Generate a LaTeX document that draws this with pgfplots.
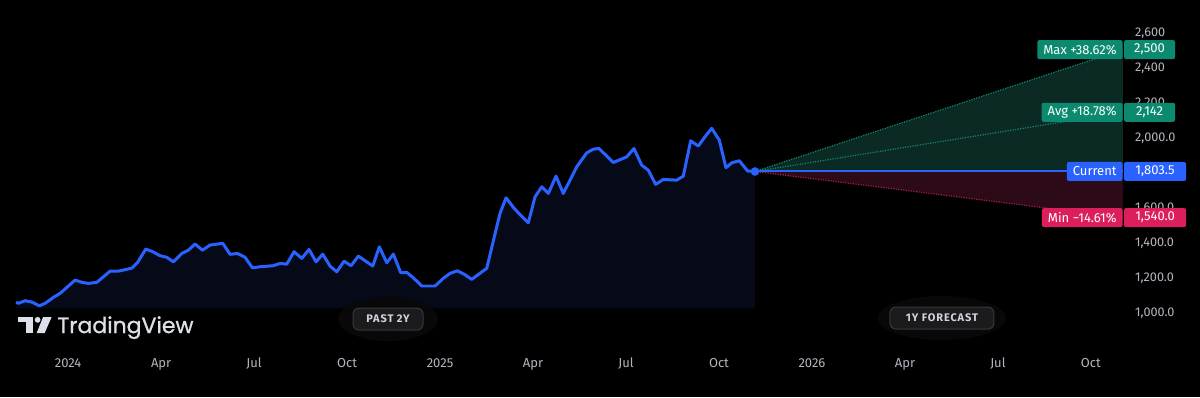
\documentclass[border=0pt]{standalone}
\usepackage{fontspec}
\setmainfont{Fira Sans}
\newfontfamily\logofont{Poppins}[FakeBold=0.9]
\newfontfamily\pillfont{Fira Sans}[LetterSpace=8]
\usepackage{pgfplots}
\pgfplotsset{compat=1.18}
\usepgfplotslibrary{fillbetween}
\usepackage{pgfplotstable}

\definecolor{tvblue}{HTML}{2962FF}
\definecolor{navyfill}{HTML}{060A18}
\definecolor{conegreen}{HTML}{0B2A24}
\definecolor{conered}{HTML}{2C0A17}
\definecolor{tvgreen}{HTML}{0B8A70}
\definecolor{tvred}{HTML}{DC1F5C}
\definecolor{dotgreen}{HTML}{108A70}
\definecolor{dotred}{HTML}{A51D4C}
\definecolor{ticktext}{HTML}{B2B5BE}
\definecolor{pilltext}{HTML}{D1D4DC}
\definecolor{pillfill}{HTML}{1B1B1D}
\definecolor{pilldraw}{HTML}{38383B}
\definecolor{glowcol}{HTML}{080809}
\definecolor{logotext}{HTML}{DDE0E8}

% price history: x = months since Jan 2024, y = price
\pgfplotstableread{
m v
-1.677 1057
-1.603 1050
-1.387 1065
-1.171 1057
-0.926 1036
-0.742 1050
-0.474 1084
-0.258 1107
0.226 1183
0.442 1170
0.655 1164
0.926 1170
1.355 1234
1.623 1234
2.055 1251
2.235 1282
2.506 1360
2.732 1345
2.968 1322
3.184 1313
3.397 1287
3.668 1335
3.881 1354
4.097 1389
4.332 1354
4.581 1383
4.990 1393
5.226 1330
5.461 1335
5.710 1313
5.945 1253
6.194 1259
6.623 1265
6.839 1278
7.055 1274
7.290 1345
7.539 1307
7.774 1358
8.000 1287
8.216 1331
8.452 1263
8.668 1230
8.903 1291
9.129 1265
9.365 1320
9.829 1263
10.042 1373
10.281 1282
10.494 1331
10.732 1225
10.926 1227
11.139 1196
11.410 1149
11.839 1149
12.106 1193
12.323 1221
12.558 1236
12.774 1217
13.023 1187
13.506 1250
13.935 1564
14.129 1653
14.419 1587
14.581 1558
14.848 1510
15.065 1659
15.281 1716
15.494 1678
15.742 1777
15.977 1678
16.410 1830
16.732 1910
16.945 1931
17.129 1935
17.590 1855
18.023 1887
18.258 1935
18.506 1840
18.719 1811
18.958 1730
19.203 1758
19.635 1754
19.848 1777
20.087 1979
20.332 1949
20.548 2002
20.765 2050
21.010 1983
21.226 1825
21.410 1853
21.655 1865
21.926 1806
22.161 1803.5
}\pricetable

\tikzset{
  lbl/.style={anchor=east, minimum height=14.25pt, inner xsep=4.5pt, inner ysep=0pt,
    rounded corners=1.5pt, text=white, font=\fontsize{9.75}{10}\selectfont},
  val/.style={anchor=west, minimum height=14.25pt, inner sep=0pt, xshift=0.75pt,
    rounded corners=1.5pt, text=white, font=\fontsize{9.75}{10}\selectfont},
  pill/.style={fill=pillfill, draw=pilldraw, line width=0.75pt, rounded corners=4.5pt,
    minimum height=16.5pt, inner sep=0pt, text=pilltext,
    font=\pillfont\fontsize{8.25}{9}\selectfont\bfseries}
}

\begin{document}
\begin{tikzpicture}
\begin{axis}[
  scale only axis, width=900pt, height=297.75pt,
  xmin=-2.1935, xmax=36.516, ymin=514.3, ymax=2782.9,
  axis background/.style={fill=black},
  axis line style={draw=none},
  major tick length=0pt,
  xtick={0,3,...,33},
  xticklabels={2024,Apr,Jul,Oct,2025,Apr,Jul,Oct,2026,Apr,Jul,Oct},
  ytick={1000,1200,1400,1600,1800,2000,2200,2400,2600},
  yticklabels={{1,000.0},{1,200.0},{1,400.0},{1,600.0},{1,800.0},{2,000.0},{2,200},{2,400},{2,600}},
  yticklabel pos=right,
  xticklabel style={anchor=base, yshift=22.5pt, inner sep=0pt, text=ticktext,
    font=\fontsize{9.75}{10}\selectfont},
  yticklabel style={anchor=base west, xshift=-48.75pt, yshift=-3pt, inner sep=0pt, text=ticktext,
    font=\fontsize{9.5}{10}\selectfont},
]
% forecast cone
\addplot[fill=conegreen, draw=none] coordinates {(22.161,1803.5) (34.03,2500) (34.03,1803.5)} -- cycle;
\addplot[fill=conered, draw=none] coordinates {(22.161,1803.5) (34.03,1803.5) (34.03,1540)} -- cycle;
\addplot[dotgreen, line width=0.9pt, densely dotted] coordinates {(22.161,1803.5) (34.03,2500)};
\addplot[dotgreen, line width=0.9pt, densely dotted] coordinates {(22.161,1803.5) (34.03,2142)};
\addplot[dotred, line width=0.9pt, densely dotted] coordinates {(22.161,1803.5) (34.03,1540)};
\addplot[tvblue, line width=1.5pt] coordinates {(22.161,1803.5) (34.03,1803.5)};
% area under price
\addplot[name path=price, draw=none] table[x=m, y=v] {\pricetable};
\addplot[name path=base, draw=none] coordinates {(-1.677,1021) (22.161,1021)};
\addplot[navyfill] fill between[of=price and base];
% price line
\addplot[tvblue, line width=2.25pt, line join=round] table[x=m, y=v] {\pricetable};
\addplot[only marks, mark=*, mark size=3pt, tvblue] coordinates {(22.161,1803.5)};
\coordinate (pmax) at (axis cs:34.03,2500);
\coordinate (pavg) at (axis cs:34.03,2142);
\coordinate (pcur) at (axis cs:34.03,1803.5);
\coordinate (pmin) at (axis cs:34.03,1540);
\end{axis}

\node[lbl, fill=tvgreen] at (pmax) {Max +38.62\%};
\node[val, fill=tvgreen, minimum width=38.25pt] at (pmax) {2,500};
\node[lbl, fill=tvgreen] at (pavg) {Avg +18.78\%};
\node[val, fill=tvgreen, minimum width=38.25pt] at (pavg) {2,142};
\node[lbl, fill=tvblue] at (pcur) {Current};
\node[val, fill=tvblue, minimum width=46.5pt] at (pcur) {1,803.5};
\node[lbl, fill=tvred] at (pmin) {Min −14.61\%};
\node[val, fill=tvred, minimum width=46.5pt] at (pmin) {1,540.0};

\begin{scope}[x=0.75pt, y=-0.75pt, shift={(0pt,297.75pt)}]
  \fill[glowcol] (388,319) ellipse (50 and 22);
  \fill[glowcol] (942,318) ellipse (64 and 22);
  \node[pill, minimum width=52.5pt] at (388,319) {PAST 2Y};
  \node[pill, minimum width=78pt] at (942,318) {1Y FORECAST};
  % logo
  \fill[logotext] (18,317) rectangle (33,322);
  \fill[logotext] (25.5,317) rectangle (33,333);
  \fill[logotext] (37.5,319.8) circle (2.9);
  \fill[logotext] (43,317) -- (51.5,317) -- (44.5,333) -- (36.5,333) -- cycle;
  \node[anchor=base west, inner sep=0pt, text=logotext,
    font=\logofont\fontsize{16.5}{17}\selectfont] at (57,333) {TradingView};
\end{scope}
\end{tikzpicture}
\end{document}
